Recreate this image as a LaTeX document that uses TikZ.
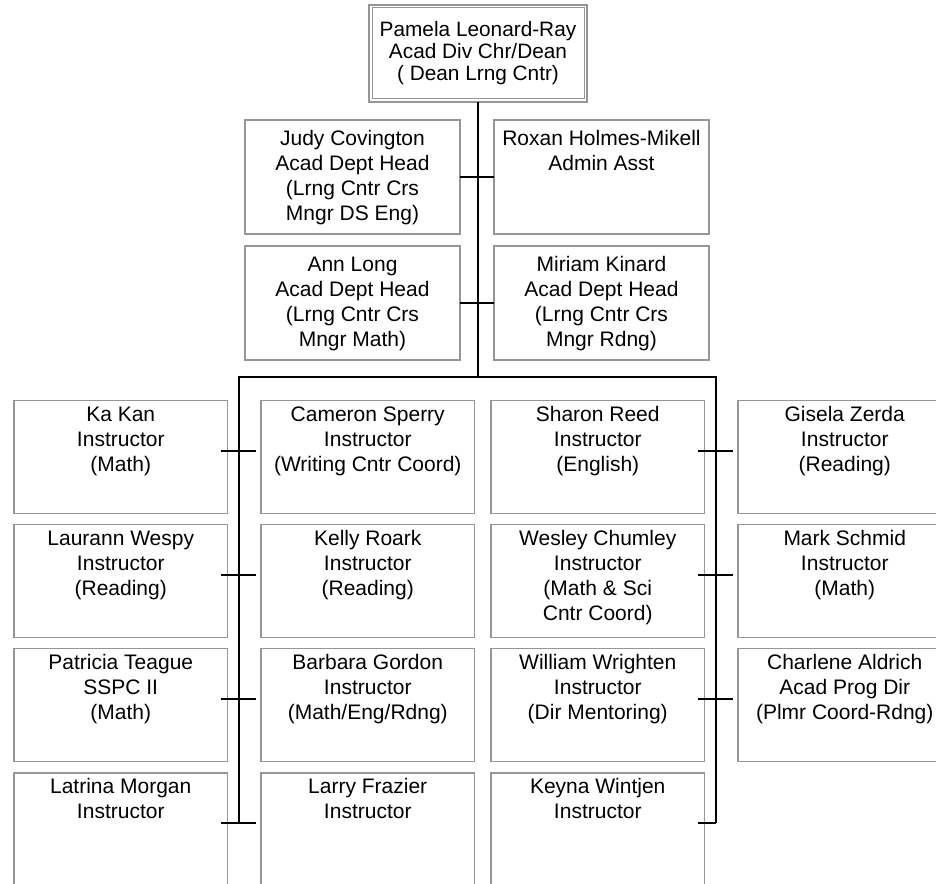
\documentclass[tikz,border=0pt]{standalone}
\usepackage{fontspec}
\setmainfont{Liberation Sans}
\usetikzlibrary{calc}
\definecolor{boxgray}{RGB}{150,150,150}
\begin{document}
\begin{tikzpicture}[x=1pt,y=-1pt,
  box/.style={draw=boxgray, line width=1.3pt, fill=white, anchor=north west, inner sep=0pt, outer sep=0pt, minimum width=213.5pt, minimum height=113pt},
  midbox/.style={box, minimum width=215pt, minimum height=114pt},
  txt/.style={anchor=north, align=center, inner sep=0pt, font=\fontsize{21}{25}\selectfont},
  toptxt/.style={txt, font=\fontsize{20.8}{22}\selectfont},
  link/.style={draw=black, line width=2pt}]
\useasboundingbox (0,0) rectangle (936,883);
\clip (0,0) rectangle (936,883);
\fill[white] (0,0) rectangle (936,883);

% top box (double border)
\node[draw=boxgray, line width=2pt, anchor=north west, inner sep=0pt, outer sep=0pt, minimum width=218pt, minimum height=96.5pt] (dean) at (369,5) {};
\node[draw=boxgray, line width=1pt, anchor=north west, inner sep=0pt, outer sep=0pt, minimum width=212pt, minimum height=90.7pt] (deanin) at (372,7.8) {};
\node[toptxt] (deant) at ($(dean.north)+(0,15.6)$) {\strut Pamela Leonard-Ray\\Acad Div Chr/Dean\\( Dean Lrng Cntr)};

% middle boxes
\node[midbox] (judy) at (245,120) {};
\node[midbox] (roxan) at (494,120) {};
\node[midbox] (ann) at (245,246) {};
\node[midbox] (miriam) at (494,246) {};
\node[txt] (judyt) at ($(judy.north)+(0,8.2)$) {\strut Judy Covington\\Acad Dept Head\\(Lrng Cntr Crs\\Mngr DS Eng)};
\node[txt] (roxant) at ($(roxan.north)+(0,8.2)$) {\strut Roxan Holmes-Mikell\\Admin Asst};
\node[txt] (annt) at ($(ann.north)+(0,8.2)$) {\strut Ann Long\\Acad Dept Head\\(Lrng Cntr Crs\\Mngr Math)};
\node[txt] (miriamt) at ($(miriam.north)+(0,8.2)$) {\strut Miriam Kinard\\Acad Dept Head\\(Lrng Cntr Crs\\Mngr Rdng)};

% bottom boxes: column 1
\node[box] (kakan) at (14,400.5) {};
\node[box] (laurann) at (14,524.5) {};
\node[box] (patricia) at (14,648.5) {};
\node[box] (latrina) at (14,773) {};
% column 2
\node[box] (cameron) at (261,400.5) {};
\node[box] (kelly) at (261,524.5) {};
\node[box] (barbara) at (261,648.5) {};
\node[box] (larry) at (261,773) {};
% column 3
\node[box] (sharon) at (491,400.5) {};
\node[box] (wesley) at (491,524.5) {};
\node[box] (william) at (491,648.5) {};
\node[box] (keyna) at (491,773) {};
% column 4
\node[box] (gisela) at (738,400.5) {};
\node[box] (mark) at (738,524.5) {};
\node[box] (charlene) at (738,648.5) {};

\node[txt] at ($(kakan.north)+(0,2.8)$) {\strut Ka Kan\\Instructor\\(Math)};
\node[txt] at ($(laurann.north)+(0,2.8)$) {\strut Laurann Wespy\\Instructor\\(Reading)};
\node[txt] at ($(patricia.north)+(0,2.8)$) {\strut Patricia Teague\\SSPC II\\(Math)};
\node[txt] at ($(latrina.north)+(0,2.8)$) {\strut Latrina Morgan\\Instructor};
\node[txt] at ($(cameron.north)+(0,2.8)$) {\strut Cameron Sperry\\Instructor\\(Writing Cntr Coord)};
\node[txt] at ($(kelly.north)+(0,2.8)$) {\strut Kelly Roark\\Instructor\\(Reading)};
\node[txt] at ($(barbara.north)+(0,2.8)$) {\strut Barbara Gordon\\Instructor\\(Math/Eng/Rdng)};
\node[txt] at ($(larry.north)+(0,2.8)$) {\strut Larry Frazier\\Instructor};
\node[txt] at ($(sharon.north)+(0,2.8)$) {\strut Sharon Reed\\Instructor\\(English)};
\node[txt] at ($(wesley.north)+(0,2.8)$) {\strut Wesley Chumley\\Instructor\\(Math \& Sci\\Cntr Coord)};
\node[txt] at ($(william.north)+(0,2.8)$) {\strut William Wrighten\\Instructor\\(Dir Mentoring)};
\node[txt] at ($(keyna.north)+(0,2.8)$) {\strut Keyna Wintjen\\Instructor};
\node[txt] at ($(gisela.north)+(0,2.8)$) {\strut Gisela Zerda\\Instructor\\(Reading)};
\node[txt] at ($(mark.north)+(0,2.8)$) {\strut Mark Schmid\\Instructor\\(Math)};
\node[txt] at ($(charlene.north)+(0,2.8)$) {\strut Charlene Aldrich\\Acad Prog Dir\\(Plmr Coord-Rdng)};

% connectors
\coordinate (busL) at (239,377);
\coordinate (busR) at (716,377);
\coordinate (endL) at (239,823);
\coordinate (endR) at (716,823);
\draw[link] (dean.south) -- (dean.south |- busL);
\draw[link] (endL) -- (busL) -- (busR) -- (endR);
\draw[link] (judy.east) -- (roxan.west);
\draw[link] (ann.east) -- (miriam.west);

\draw[link] ($(kakan.north east)+(-6.5,50.5)$) -- ($(cameron.north west)+(-5,50.5)$);
\draw[link] ($(laurann.north east)+(-6.5,50.5)$) -- ($(kelly.north west)+(-5,50.5)$);
\draw[link] ($(patricia.north east)+(-6.5,50.5)$) -- ($(barbara.north west)+(-5,50.5)$);
\draw[link] ($(latrina.north east)+(-6.5,50)$) -- ($(larry.north west)+(-5,50)$);
\draw[link] ($(sharon.north east)+(-6.5,50.5)$) -- ($(gisela.north west)+(-5,50.5)$);
\draw[link] ($(wesley.north east)+(-6.5,50.5)$) -- ($(mark.north west)+(-5,50.5)$);
\draw[link] ($(william.north east)+(-6.5,50.5)$) -- ($(charlene.north west)+(-5,50.5)$);
\draw[link] ($(keyna.north east)+(-6.5,50)$) -- (endR);
\end{tikzpicture}
\end{document}
